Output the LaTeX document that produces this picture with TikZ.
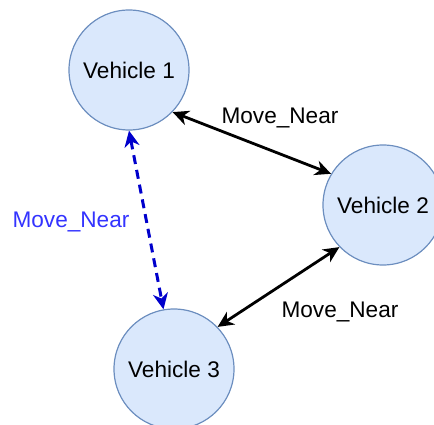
\documentclass[tikz,border=0pt]{standalone}
\usepackage{fontspec}
\setmainfont{Liberation Sans}
\usetikzlibrary{arrows.meta}
\definecolor{vfill}{HTML}{DAE8FC}
\definecolor{vline}{HTML}{6C8EBF}
\definecolor{dashblue}{HTML}{0000CC}
\definecolor{labblue}{HTML}{3333FF}
\begin{document}
\begin{tikzpicture}[x=1pt,y=-1pt,
  vehicle/.style={circle,draw=vline,fill=vfill,line width=1.2pt,minimum size=120pt,inner sep=0pt,font=\fontsize{22.6}{26}\selectfont},
  link/.style={line width=2.8pt,{Stealth[length=16pt,width=15pt,inset=5pt]}-{Stealth[length=16pt,width=15pt,inset=5pt]}},
  lab/.style={font=\fontsize{22.6}{26}\selectfont,inner sep=0pt}]
  \useasboundingbox (0,0) rectangle (434,425);
  \node[vehicle] (v1) at (129,70) {Vehicle 1};
  \node[vehicle] (v2) at (383,205) {Vehicle 2};
  \node[vehicle] (v3) at (174,369) {Vehicle 3};
  % links between the vehicles
  \draw[link] (v1.-44) -- (v2.149);
  \draw[link] (v2.224) -- (v3.44);
  \draw[link,dashblue,line width=3pt,dash pattern=on 9pt off 6pt] (v1.south) -- (v3.100);
  % relation labels
  \node[lab] (l12) at (280,118) {Move\_Near};
  \node[lab] (l23) at (340,312) {Move\_Near};
  \node[lab,text=labblue] (l13) at (71,222) {Move\_Near};
\end{tikzpicture}
\end{document}
